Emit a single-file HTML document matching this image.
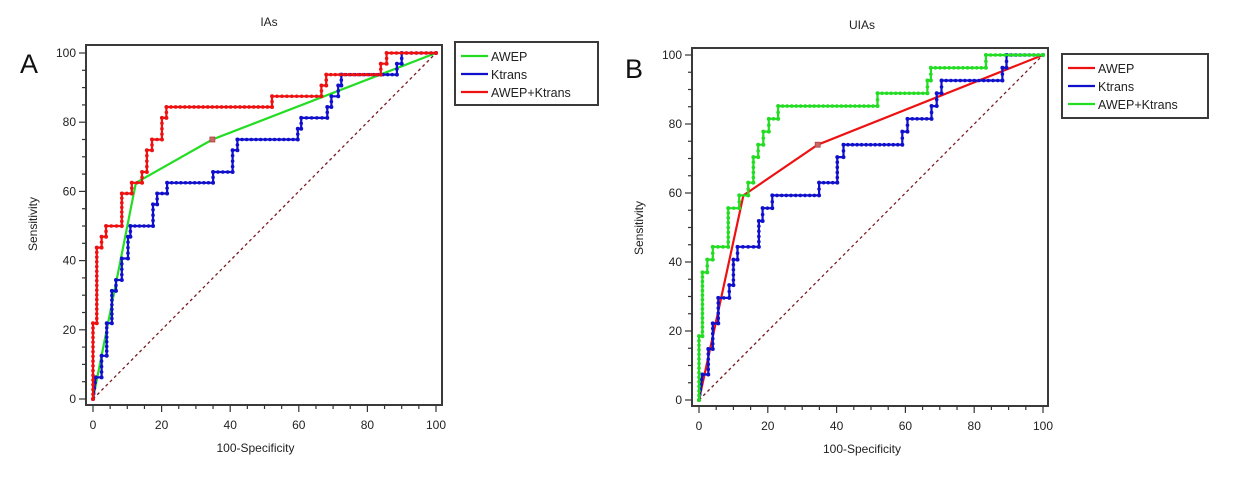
<!DOCTYPE html>
<html><head><meta charset="utf-8">
<style>
html,body{margin:0;padding:0;background:#fff;}
svg{display:block;font-family:"Liberation Sans",Arial,sans-serif;}
</style></head>
<body>
<svg id="chart" width="1259" height="495" viewBox="0 0 1259 495" xmlns="http://www.w3.org/2000/svg"></svg>
<script>
// ---- Panel A (IAs) data ----
const ticksX = [0,20,40,60,80,100];
const ticksY = [0,20,40,60,80,100];
const seriesNames = ["AWEP","Ktrans","AWEP+Ktrans"];
// Panel A: AWEP (green) ROC points
const aAwepX = [0,12.5,34.8,100];
const aAwepY = [0,62.5,75,100];
// Panel A: Ktrans (blue) step points (x,y vertices)
const aKtransX = [0,0.8,2.5,2.5,4,4,5.5,5.5,6.7,6.7,8.4,8.4,10.2,10.2,10.9,10.9,17.5,17.5,18.7,18.7,21.6,21.6,35,35,40.7,40.7,42.1,42.1,59.7,59.7,60.7,60.7,68.3,68.3,69.5,69.5,71.5,71.5,72.4,72.4,88.6,88.6,90,90,100];
const aKtransY = [0,6.25,6.25,12.5,12.5,21.9,21.9,31.25,31.25,34.4,34.4,40.6,40.6,46.9,46.9,50,50,56.25,56.25,59.4,59.4,62.5,62.5,65.6,65.6,71.9,71.9,75,75,78.1,78.1,81.25,81.25,84.4,84.4,87.5,87.5,90.6,90.6,93.75,93.75,96.9,96.9,100,100];
// Panel A: AWEP+Ktrans (red) step points
const aComboX = [0,0,1.1,1.1,2.5,2.5,3.8,3.8,8.4,8.4,11.3,11.3,14.3,14.3,15.7,15.7,17.2,17.2,20.1,20.1,21.4,21.4,52.2,52.2,66.6,66.6,68,68,83.9,83.9,85.6,85.6,100];
const aComboY = [0,21.9,21.9,43.75,43.75,46.9,46.9,50,50,59.4,59.4,62.5,62.5,65.6,65.6,71.9,71.9,75,75,81.25,81.25,84.4,84.4,87.5,87.5,90.6,90.6,93.75,93.75,96.9,96.9,100,100];
// ---- Panel B (UIAs) data ----
const bAwepX = [0,12.9,34.5,100];
const bAwepY = [0,59.3,74,100];
const bKtransX = [0,1,2.7,2.7,4,4,5.6,5.6,8.8,8.8,10,10,11.2,11.2,17.4,17.4,18.5,18.5,21.3,21.3,34.9,34.9,40.2,40.2,42,42,59.1,59.1,60.6,60.6,67.6,67.6,69.1,69.1,70.5,70.5,88.2,88.2,89.4,89.4,100];
const bKtransY = [0,7.4,7.4,14.8,14.8,22.2,22.2,29.6,29.6,33.3,33.3,40.7,40.7,44.4,44.4,51.9,51.9,55.6,55.6,59.3,59.3,63,63,70.4,70.4,74,74,77.8,77.8,81.5,81.5,85.2,85.2,88.9,88.9,92.6,92.6,96.3,96.3,100,100];
const bComboX = [0,0,1,1,2.4,2.4,4,4,8.5,8.5,11.7,11.7,14.3,14.3,15.8,15.8,17.2,17.2,18.7,18.7,20.3,20.3,23,23,51.9,51.9,66.4,66.4,67.4,67.4,83.4,83.4,100];
const bComboY = [0,18.5,18.5,37,37,40.7,40.7,44.4,44.4,55.6,55.6,59.3,59.3,63,63,70.4,70.4,74,74,77.8,77.8,81.5,81.5,85.2,85.2,88.9,88.9,92.6,92.6,96.3,96.3,100,100];

const NS="http://www.w3.org/2000/svg";
const svg=document.getElementById('chart');
function mk(tag,attrs,parent){const e=document.createElementNS(NS,tag);for(const k in attrs)e.setAttribute(k,attrs[k]);(parent||svg).appendChild(e);return e;}

function panel(cfg){
  const g=mk('g',{});
  
  
  const sx=v=>cfg.x0+(cfg.x100-cfg.x0)*v/100;
  const sy=v=>cfg.y0+(cfg.y100-cfg.y0)*v/100;
  // title
  const t=mk('text',{x:cfg.titleX,y:cfg.titleY,'font-size':12,'text-anchor':'middle',fill:'#222'},g);t.textContent=cfg.title;
  
  
  const L=mk('text',{x:cfg.letterX,y:cfg.letterY,'font-size':27,fill:'#111'},g);L.textContent=cfg.letter;
  
  
  // diagonal
  const d=mk('line',{x1:sx(0),y1:sy(0),x2:sx(100),y2:sy(100),stroke:'#7a1a22','stroke-width':1.3,'stroke-dasharray':'3,3'},g);
  
  
  // series
  cfg.series.forEach((s,i)=>{
    const pts=s.x.map((v,j)=>sx(v).toFixed(1)+','+sy(s.y[j]).toFixed(1)).join(' ');
    const pl=mk('polyline',{points:pts,fill:'none',stroke:s.color,'stroke-width':2.2},g);
    
    
    if(s.dots){
      for(let j=0;j<s.x.length;j++){
        mk('circle',{cx:sx(s.x[j]),cy:sy(s.y[j]),r:2,fill:s.color},g);
        if(j<s.x.length-1){
          const x1=sx(s.x[j]),y1=sy(s.y[j]),x2=sx(s.x[j+1]),y2=sy(s.y[j+1]);
          const len=Math.hypot(x2-x1,y2-y1);const n=Math.floor(len/4.5);
          for(let k=1;k<n;k++)mk('circle',{cx:x1+(x2-x1)*k/n,cy:y1+(y2-y1)*k/n,r:1.8,fill:s.color},g);
        }
      }
    } else if(s.mark){
      const m=mk('rect',{x:sx(s.x[2])-2.5,y:sy(s.y[2])-2.5,width:5,height:5,fill:'#c66',stroke:'#a44','stroke-width':0.8},g);
      
      
    }
  });
  // frame
  const fr=mk('rect',{x:cfg.fx,y:cfg.fy,width:cfg.fw,height:cfg.fh,fill:'none',stroke:'#3a3a3a','stroke-width':2},g);
  
  
  // ticks
  const by=cfg.fy+cfg.fh, lx=cfg.fx;
  for(let v=0;v<=100;v+=5){
    const big=v%20===0;
    mk('line',{x1:sx(v),y1:by,x2:sx(v),y2:by+(big?7:4),stroke:'#333','stroke-width':1.2},g);
    mk('line',{x1:lx,y1:sy(v),x2:lx-(big?7:4),y2:sy(v),stroke:'#333','stroke-width':1.2},g);
  }
  ticksX.forEach(v=>{const e=mk('text',{x:sx(v),y:by+24,'font-size':12,'text-anchor':'middle',fill:'#222'},g);e.textContent=v;
    
    });
  ticksY.forEach(v=>{const e=mk('text',{x:lx-10,y:sy(v)+4,'font-size':12,'text-anchor':'end',fill:'#222'},g);e.textContent=v;
    
    });
  const xt=mk('text',{x:(sx(0)+sx(100))/2-9,y:by+47,'font-size':12,'text-anchor':'middle',fill:'#222'},g);xt.textContent='100-Specificity';
  
  
  const yt=mk('text',{x:0,y:0,'font-size':12,'text-anchor':'middle',fill:'#222',transform:`translate(${cfg.ytX},${cfg.ytY}) rotate(-90)`},g);yt.textContent='Sensitivity';
  
  
  // legend
  const lg=mk('g',{},g);
  
  
  mk('rect',{x:cfg.lgX,y:cfg.lgY,width:cfg.lgW,height:cfg.lgH,fill:'#fff',stroke:'#3a3a3a','stroke-width':2},lg);
  cfg.legend.forEach((it,i)=>{
    const yy=cfg.lgY+14+i*18;
    const en=mk('g',{},lg);
    
    
    mk('line',{x1:cfg.lgX+6,y1:yy,x2:cfg.lgX+33,y2:yy,stroke:it.color,'stroke-width':2.2},en);
    const tt=mk('text',{x:cfg.lgX+36,y:yy+5,'font-size':12.5,fill:'#222'},en);tt.textContent=it.label;
  });
}

panel({id:'ias',title:'IAs',titleX:269,titleY:26,letter:'A',letterX:20,letterY:73,
  x0:93,x100:436,y0:399,y100:53,fx:86,fy:45,fw:356,fh:360,ytX:37,ytY:224,
  lgX:455,lgY:42,lgW:143,lgH:63,
  series:[
    {name:'awep-line',x:aAwepX,y:aAwepY,color:'#22dd22',mark:true},
    {name:'ktrans-line',x:aKtransX,y:aKtransY,color:'#1010cc',dots:true},
    {name:'awep-ktrans-line',x:aComboX,y:aComboY,color:'#ee1111',dots:true}],
  legend:[{label:seriesNames[0],color:'#22dd22'},{label:seriesNames[1],color:'#1010cc'},{label:seriesNames[2],color:'#ee1111'}]});

panel({id:'uias',title:'UIAs',titleX:862,titleY:29,letter:'B',letterX:625,letterY:78,
  x0:699,x100:1043,y0:400,y100:55,fx:692,fy:48,fw:356,fh:358,ytX:643,ytY:228,
  lgX:1062,lgY:54,lgW:146,lgH:64,
  series:[
    {name:'awep-line',x:bAwepX,y:bAwepY,color:'#ee1111',mark:true},
    {name:'ktrans-line',x:bKtransX,y:bKtransY,color:'#1010cc',dots:true},
    {name:'awep-ktrans-line',x:bComboX,y:bComboY,color:'#22dd22',dots:true}],
  legend:[{label:seriesNames[0],color:'#ee1111'},{label:seriesNames[1],color:'#1010cc'},{label:seriesNames[2],color:'#22dd22'}]});
</script>
</body></html>
